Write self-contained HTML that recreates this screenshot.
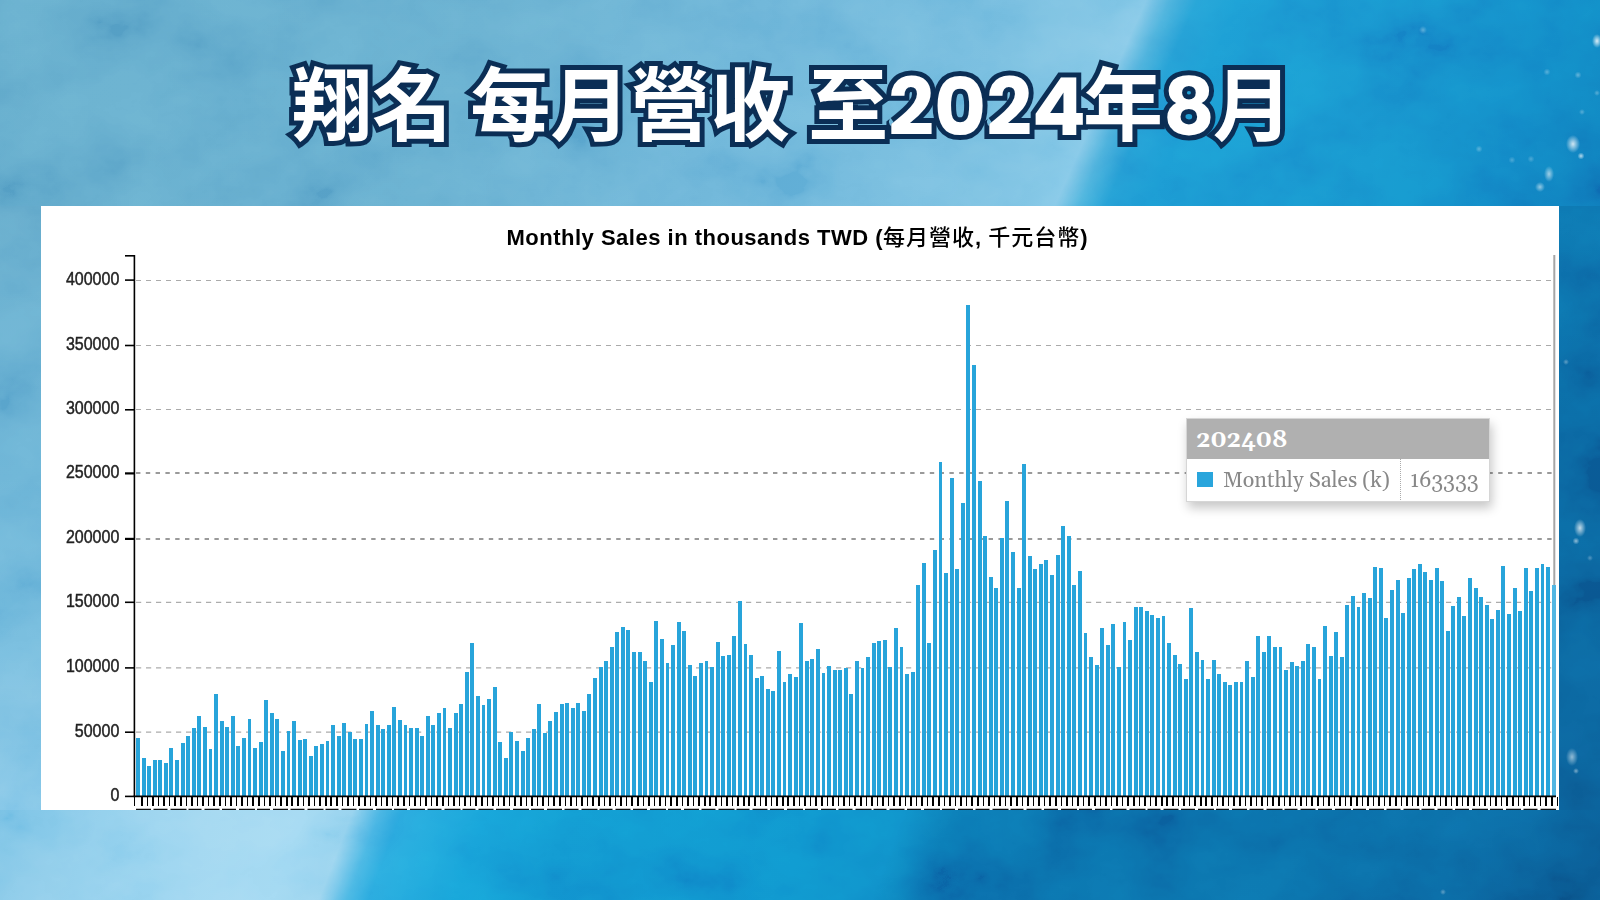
<!DOCTYPE html>
<html><head><meta charset="utf-8">
<style>
*{margin:0;padding:0;box-sizing:border-box}
html,body{width:1600px;height:900px;overflow:hidden}
body{position:relative;
background:#3f9bd0;
}
.bgt{position:absolute;left:0;top:0;width:1600px;height:215px;
 background:linear-gradient(114deg, #62aacb 0%, #65adcf 30%, #6cb4d8 45%, #74bcdf 60%, #7cc3e4 66%, #84c8e8 67.6%, #4cb0dc 69%, #259ed5 70.6%, #1c9ad3 73%, #1792cd 85%, #1287c6 93%, #0f7cbb 100%)}
.bgb{position:absolute;left:0;top:800px;width:1600px;height:100px;
 background:linear-gradient(111deg, #7ec4e6 0%, #8acbea 4.5%, #98d3ef 10%, #a0d8f2 19%, #9ad4ef 21.8%, #4ab6e4 23.5%, #2aa8de 24.8%, #17a0d8 30%, #1296d0 35%, #0f92cd 50%, #0f8cc8 55.5%, #0b76b3 58.5%, #0b70ac 65%, #0b6ea9 80%, #0b68a3 90%, #0a5d96 100%)}
.bgl{position:absolute;left:0;top:206px;width:45px;height:604px;
 background:linear-gradient(180deg, #64aacb 0%, #68b1d5 45%, #72badd 72%, #80c3e4 90%, #89c9e9 100%)}
.bgr{position:absolute;left:1555px;top:206px;width:45px;height:604px;
 background:linear-gradient(180deg, #0d74b0 0%, #0b6ba6 30%, #0b66a0 60%, #0b5e97 100%)}
.tex{position:absolute;left:0;top:0;mix-blend-mode:overlay;opacity:0.13}
.spk{position:absolute;left:0;top:0;width:1600px;height:900px;background:
 radial-gradient(ellipse 5px 7px at 1597px 41px, rgba(255,255,255,0.85), rgba(255,255,255,0)),
 radial-gradient(ellipse 7px 9px at 1573px 144px, rgba(255,255,255,0.8), rgba(255,255,255,0)),
 radial-gradient(circle 3.5px at 1581px 156px, rgba(255,255,255,0.7), rgba(255,255,255,0)),
 radial-gradient(ellipse 5px 8px at 1549px 174px, rgba(255,255,255,0.6), rgba(255,255,255,0)),
 radial-gradient(circle 5px at 1540px 187px, rgba(255,255,255,0.55), rgba(255,255,255,0)),
 radial-gradient(circle 4px at 1423px 30px, rgba(255,255,255,0.3), rgba(255,255,255,0)),
 radial-gradient(circle 3.5px at 1578px 75px, rgba(255,255,255,0.35), rgba(255,255,255,0)),
 radial-gradient(circle 3.5px at 1547px 72px, rgba(255,255,255,0.3), rgba(255,255,255,0)),
 radial-gradient(circle 3.5px at 1479px 149px, rgba(255,255,255,0.3), rgba(255,255,255,0)),
 radial-gradient(circle 3.5px at 1512px 160px, rgba(255,255,255,0.25), rgba(255,255,255,0)),
 radial-gradient(circle 3.5px at 1531px 159px, rgba(255,255,255,0.25), rgba(255,255,255,0)),
 radial-gradient(circle 3px at 1582px 112px, rgba(255,255,255,0.3), rgba(255,255,255,0)),
 radial-gradient(circle 3px at 1597px 93px, rgba(255,255,255,0.3), rgba(255,255,255,0)),
 radial-gradient(ellipse 6px 9px at 1580px 528px, rgba(255,255,255,0.75), rgba(255,255,255,0)),
 radial-gradient(circle 3.5px at 1576px 541px, rgba(255,255,255,0.55), rgba(255,255,255,0)),
 radial-gradient(circle 3px at 1566px 362px, rgba(255,255,255,0.35), rgba(255,255,255,0)),
 radial-gradient(circle 3px at 1590px 558px, rgba(255,255,255,0.3), rgba(255,255,255,0)),
 radial-gradient(ellipse 6px 9px at 1572px 757px, rgba(255,255,255,0.55), rgba(255,255,255,0)),
 radial-gradient(circle 3px at 1576px 771px, rgba(255,255,255,0.45), rgba(255,255,255,0)),
 radial-gradient(circle 3px at 1443px 892px, rgba(255,255,255,0.35), rgba(255,255,255,0))}
.title{position:absolute;left:292px;top:39px;width:1600px;text-align:left;white-space:pre;
 font-family:"Noto Sans CJK TC","Noto Sans CJK SC",sans-serif;font-weight:700;font-size:80px;line-height:120px;letter-spacing:0px}
.title.s{color:#0b2e55;-webkit-text-stroke:10px #0b2e55}
.title.f{color:#fff}
.title .a{letter-spacing:0px}.title .d{font-family:Poppins,"Noto Sans CJK TC",sans-serif;font-weight:700;position:relative;top:1px}.title .e{margin-right:-3px}.title .g{margin-right:-2px}.title .c{letter-spacing:0px}
.panel{position:absolute;left:41px;top:206px;width:1518px;height:604px;background:#fff}
svg.chart{position:absolute;left:0;top:0}
.ctitle{position:absolute;left:506.5px;top:222px;width:700px;text-align:left;white-space:nowrap;font-family:"Liberation Sans",Arial,sans-serif;font-weight:bold;font-size:22px;color:#000;line-height:26px;letter-spacing:0.5px}
.ctitle span{font-family:"Noto Sans CJK TC",sans-serif;font-weight:500;letter-spacing:1px}
.tt{position:absolute;left:1186px;top:418px;width:304px;height:83.5px;background:#fff;border:1px solid #d6d6d6;box-shadow:2px 6px 10px rgba(0,0,0,0.22);font-family:Gelasio,"Liberation Serif",serif}
.tt .h{height:40px;background:#b0b0b0;color:#fff;font-weight:bold;font-size:23px;line-height:43px;padding-left:9px;font-variant-numeric:oldstyle-nums}
.tt .r{position:relative;height:41px}
.tt .sq{position:absolute;left:10px;top:13px;width:16px;height:15px;background:#29a5dc}
.tt .k{position:absolute;left:36px;top:8px;font-size:21.4px;color:#888;line-height:28px}
.tt .d{position:absolute;left:213px;top:0;height:41px;border-left:1px dotted #aaa}
.tt .v{position:absolute;left:223px;top:8px;font-size:21.4px;color:#888;line-height:28px;font-variant-numeric:oldstyle-nums}
</style></head><body>
<div class="bgt"></div><div class="bgb"></div><div class="bgl"></div><div class="bgr"></div>
<svg class="tex" width="1600" height="900" viewBox="0 0 1600 900"><filter id="tn" x="0" y="0" width="100%" height="100%" filterUnits="userSpaceOnUse"><feTurbulence type="fractalNoise" baseFrequency="0.011 0.014" numOctaves="5" seed="11" result="n"/><feColorMatrix in="n" type="matrix" values="1.6 0 0 0 -0.3  1.6 0 0 0 -0.3  1.6 0 0 0 -0.3  0 0 0 0 1"/></filter><rect x="0" y="0" width="1600" height="900" filter="url(#tn)"/></svg>
<div class="spk"></div>
<div class="title s">翔名 每月營收 <span class="a">至</span><span class="d e">2024</span><span class="c">年</span><span class="d g">8</span>月</div>
<div class="title f">翔名 每月營收 <span class="a">至</span><span class="d e">2024</span><span class="c">年</span><span class="d g">8</span>月</div>
<div class="panel"></div>
<svg class="chart" width="1600" height="900" viewBox="0 0 1600 900">
<g>
<line x1="136" y1="732.2" x2="1553" y2="732.2" stroke="#acacac" stroke-width="1.3" stroke-dasharray="5.2 4.8"/><line x1="136" y1="667.9" x2="1553" y2="667.9" stroke="#acacac" stroke-width="1.3" stroke-dasharray="5.2 4.8"/><line x1="136" y1="602.3" x2="1553" y2="602.3" stroke="#acacac" stroke-width="1.3" stroke-dasharray="5.2 4.8"/><line x1="136" y1="539" x2="1553" y2="539" stroke="#9a9a9a" stroke-width="2" stroke-dasharray="4.4 5.4"/><line x1="136" y1="473" x2="1553" y2="473" stroke="#9a9a9a" stroke-width="2" stroke-dasharray="4.4 5.4"/><line x1="136" y1="409.5" x2="1553" y2="409.5" stroke="#aaa" stroke-width="1" stroke-dasharray="5 5"/><line x1="136" y1="345.5" x2="1553" y2="345.5" stroke="#aaa" stroke-width="1" stroke-dasharray="5 5"/><line x1="136" y1="280.5" x2="1553" y2="280.5" stroke="#aaa" stroke-width="1" stroke-dasharray="5 5"/>
</g>
<g shape-rendering="crispEdges">
<rect x="136.05" y="738.4" width="3.9" height="57.6" fill="#28a4da"/>
<rect x="141.62" y="758.1" width="3.9" height="37.9" fill="#28a4da"/>
<rect x="147.20" y="765.7" width="3.9" height="30.3" fill="#28a4da"/>
<rect x="152.77" y="760.4" width="3.9" height="35.6" fill="#28a4da"/>
<rect x="158.34" y="760.4" width="3.9" height="35.6" fill="#28a4da"/>
<rect x="163.92" y="763.3" width="3.9" height="32.7" fill="#28a4da"/>
<rect x="169.49" y="747.6" width="3.9" height="48.4" fill="#28a4da"/>
<rect x="175.06" y="760.4" width="3.9" height="35.6" fill="#28a4da"/>
<rect x="180.64" y="743.4" width="3.9" height="52.6" fill="#28a4da"/>
<rect x="186.21" y="735.5" width="3.9" height="60.5" fill="#28a4da"/>
<rect x="191.78" y="727.9" width="3.9" height="68.1" fill="#28a4da"/>
<rect x="197.36" y="716.1" width="3.9" height="79.9" fill="#28a4da"/>
<rect x="202.93" y="726.6" width="3.9" height="69.4" fill="#28a4da"/>
<rect x="208.50" y="748.9" width="3.9" height="47.1" fill="#28a4da"/>
<rect x="214.08" y="693.7" width="3.9" height="102.3" fill="#28a4da"/>
<rect x="219.65" y="721.2" width="3.9" height="74.8" fill="#28a4da"/>
<rect x="225.22" y="726.6" width="3.9" height="69.4" fill="#28a4da"/>
<rect x="230.79" y="716.1" width="3.9" height="79.9" fill="#28a4da"/>
<rect x="236.37" y="746.2" width="3.9" height="49.8" fill="#28a4da"/>
<rect x="241.94" y="738.4" width="3.9" height="57.6" fill="#28a4da"/>
<rect x="247.51" y="718.5" width="3.9" height="77.5" fill="#28a4da"/>
<rect x="253.09" y="747.6" width="3.9" height="48.4" fill="#28a4da"/>
<rect x="258.66" y="742.2" width="3.9" height="53.8" fill="#28a4da"/>
<rect x="264.23" y="700.2" width="3.9" height="95.8" fill="#28a4da"/>
<rect x="269.81" y="713.4" width="3.9" height="82.6" fill="#28a4da"/>
<rect x="275.38" y="718.5" width="3.9" height="77.5" fill="#28a4da"/>
<rect x="280.95" y="751.4" width="3.9" height="44.6" fill="#28a4da"/>
<rect x="286.53" y="730.6" width="3.9" height="65.4" fill="#28a4da"/>
<rect x="292.10" y="721.3" width="3.9" height="74.7" fill="#28a4da"/>
<rect x="297.67" y="739.8" width="3.9" height="56.2" fill="#28a4da"/>
<rect x="303.25" y="738.5" width="3.9" height="57.5" fill="#28a4da"/>
<rect x="308.82" y="755.5" width="3.9" height="40.5" fill="#28a4da"/>
<rect x="314.39" y="746.1" width="3.9" height="49.9" fill="#28a4da"/>
<rect x="319.97" y="743.6" width="3.9" height="52.4" fill="#28a4da"/>
<rect x="325.54" y="740.9" width="3.9" height="55.1" fill="#28a4da"/>
<rect x="331.11" y="725.3" width="3.9" height="70.7" fill="#28a4da"/>
<rect x="336.69" y="735.8" width="3.9" height="60.2" fill="#28a4da"/>
<rect x="342.26" y="722.6" width="3.9" height="73.4" fill="#28a4da"/>
<rect x="347.83" y="732.0" width="3.9" height="64.0" fill="#28a4da"/>
<rect x="353.41" y="738.5" width="3.9" height="57.5" fill="#28a4da"/>
<rect x="358.98" y="738.5" width="3.9" height="57.5" fill="#28a4da"/>
<rect x="364.55" y="723.9" width="3.9" height="72.1" fill="#28a4da"/>
<rect x="370.13" y="710.7" width="3.9" height="85.3" fill="#28a4da"/>
<rect x="375.70" y="725.3" width="3.9" height="70.7" fill="#28a4da"/>
<rect x="381.27" y="729.1" width="3.9" height="66.9" fill="#28a4da"/>
<rect x="386.85" y="725.3" width="3.9" height="70.7" fill="#28a4da"/>
<rect x="392.42" y="706.9" width="3.9" height="89.1" fill="#28a4da"/>
<rect x="397.99" y="719.9" width="3.9" height="76.1" fill="#28a4da"/>
<rect x="403.56" y="725.3" width="3.9" height="70.7" fill="#28a4da"/>
<rect x="409.14" y="727.8" width="3.9" height="68.2" fill="#28a4da"/>
<rect x="414.71" y="727.8" width="3.9" height="68.2" fill="#28a4da"/>
<rect x="420.28" y="735.8" width="3.9" height="60.2" fill="#28a4da"/>
<rect x="425.86" y="716.1" width="3.9" height="79.9" fill="#28a4da"/>
<rect x="431.43" y="725.3" width="3.9" height="70.7" fill="#28a4da"/>
<rect x="437.00" y="713.4" width="3.9" height="82.6" fill="#28a4da"/>
<rect x="442.58" y="708.3" width="3.9" height="87.7" fill="#28a4da"/>
<rect x="448.15" y="728.0" width="3.9" height="68.0" fill="#28a4da"/>
<rect x="453.72" y="713.4" width="3.9" height="82.6" fill="#28a4da"/>
<rect x="459.30" y="704.2" width="3.9" height="91.8" fill="#28a4da"/>
<rect x="464.87" y="671.6" width="3.9" height="124.4" fill="#28a4da"/>
<rect x="470.44" y="642.5" width="3.9" height="153.5" fill="#28a4da"/>
<rect x="476.02" y="696.2" width="3.9" height="99.8" fill="#28a4da"/>
<rect x="481.59" y="705.4" width="3.9" height="90.6" fill="#28a4da"/>
<rect x="487.16" y="698.9" width="3.9" height="97.1" fill="#28a4da"/>
<rect x="492.74" y="687.2" width="3.9" height="108.8" fill="#28a4da"/>
<rect x="498.31" y="742.3" width="3.9" height="53.7" fill="#28a4da"/>
<rect x="503.88" y="757.9" width="3.9" height="38.1" fill="#28a4da"/>
<rect x="509.46" y="731.8" width="3.9" height="64.2" fill="#28a4da"/>
<rect x="515.03" y="740.9" width="3.9" height="55.1" fill="#28a4da"/>
<rect x="520.60" y="751.4" width="3.9" height="44.6" fill="#28a4da"/>
<rect x="526.18" y="738.3" width="3.9" height="57.7" fill="#28a4da"/>
<rect x="531.75" y="729.1" width="3.9" height="66.9" fill="#28a4da"/>
<rect x="537.32" y="704.2" width="3.9" height="91.8" fill="#28a4da"/>
<rect x="542.90" y="733.1" width="3.9" height="62.9" fill="#28a4da"/>
<rect x="548.47" y="721.3" width="3.9" height="74.7" fill="#28a4da"/>
<rect x="554.04" y="712.1" width="3.9" height="83.9" fill="#28a4da"/>
<rect x="559.62" y="704.2" width="3.9" height="91.8" fill="#28a4da"/>
<rect x="565.19" y="702.9" width="3.9" height="93.1" fill="#28a4da"/>
<rect x="570.76" y="708.3" width="3.9" height="87.7" fill="#28a4da"/>
<rect x="576.34" y="702.9" width="3.9" height="93.1" fill="#28a4da"/>
<rect x="581.91" y="710.8" width="3.9" height="85.2" fill="#28a4da"/>
<rect x="587.48" y="693.9" width="3.9" height="102.1" fill="#28a4da"/>
<rect x="593.05" y="678.0" width="3.9" height="118.0" fill="#28a4da"/>
<rect x="598.63" y="666.6" width="3.9" height="129.4" fill="#28a4da"/>
<rect x="604.20" y="661.2" width="3.9" height="134.8" fill="#28a4da"/>
<rect x="609.77" y="646.7" width="3.9" height="149.3" fill="#28a4da"/>
<rect x="615.35" y="632.0" width="3.9" height="164.0" fill="#28a4da"/>
<rect x="620.92" y="627.0" width="3.9" height="169.0" fill="#28a4da"/>
<rect x="626.49" y="629.5" width="3.9" height="166.5" fill="#28a4da"/>
<rect x="632.07" y="652.0" width="3.9" height="144.0" fill="#28a4da"/>
<rect x="637.64" y="652.0" width="3.9" height="144.0" fill="#28a4da"/>
<rect x="643.21" y="661.2" width="3.9" height="134.8" fill="#28a4da"/>
<rect x="648.79" y="682.2" width="3.9" height="113.8" fill="#28a4da"/>
<rect x="654.36" y="620.5" width="3.9" height="175.5" fill="#28a4da"/>
<rect x="659.93" y="638.9" width="3.9" height="157.1" fill="#28a4da"/>
<rect x="665.51" y="662.6" width="3.9" height="133.4" fill="#28a4da"/>
<rect x="671.08" y="645.4" width="3.9" height="150.6" fill="#28a4da"/>
<rect x="676.65" y="621.7" width="3.9" height="174.3" fill="#28a4da"/>
<rect x="682.23" y="630.8" width="3.9" height="165.2" fill="#28a4da"/>
<rect x="687.80" y="665.2" width="3.9" height="130.8" fill="#28a4da"/>
<rect x="693.37" y="675.5" width="3.9" height="120.5" fill="#28a4da"/>
<rect x="698.95" y="662.6" width="3.9" height="133.4" fill="#28a4da"/>
<rect x="704.52" y="661.2" width="3.9" height="134.8" fill="#28a4da"/>
<rect x="710.09" y="666.6" width="3.9" height="129.4" fill="#28a4da"/>
<rect x="715.67" y="641.5" width="3.9" height="154.5" fill="#28a4da"/>
<rect x="721.24" y="656.1" width="3.9" height="139.9" fill="#28a4da"/>
<rect x="726.81" y="654.7" width="3.9" height="141.3" fill="#28a4da"/>
<rect x="732.39" y="636.2" width="3.9" height="159.8" fill="#28a4da"/>
<rect x="737.96" y="600.6" width="3.9" height="195.4" fill="#28a4da"/>
<rect x="743.53" y="644.0" width="3.9" height="152.0" fill="#28a4da"/>
<rect x="749.11" y="654.5" width="3.9" height="141.5" fill="#28a4da"/>
<rect x="754.68" y="678.2" width="3.9" height="117.8" fill="#28a4da"/>
<rect x="760.25" y="675.5" width="3.9" height="120.5" fill="#28a4da"/>
<rect x="765.82" y="688.5" width="3.9" height="107.5" fill="#28a4da"/>
<rect x="771.40" y="691.2" width="3.9" height="104.8" fill="#28a4da"/>
<rect x="776.97" y="650.7" width="3.9" height="145.3" fill="#28a4da"/>
<rect x="782.54" y="682.2" width="3.9" height="113.8" fill="#28a4da"/>
<rect x="788.12" y="674.2" width="3.9" height="121.8" fill="#28a4da"/>
<rect x="793.69" y="676.9" width="3.9" height="119.1" fill="#28a4da"/>
<rect x="799.26" y="623.0" width="3.9" height="173.0" fill="#28a4da"/>
<rect x="804.84" y="661.2" width="3.9" height="134.8" fill="#28a4da"/>
<rect x="810.41" y="658.5" width="3.9" height="137.5" fill="#28a4da"/>
<rect x="815.98" y="649.2" width="3.9" height="146.8" fill="#28a4da"/>
<rect x="821.56" y="672.9" width="3.9" height="123.1" fill="#28a4da"/>
<rect x="827.13" y="666.4" width="3.9" height="129.6" fill="#28a4da"/>
<rect x="832.70" y="670.2" width="3.9" height="125.8" fill="#28a4da"/>
<rect x="838.28" y="670.2" width="3.9" height="125.8" fill="#28a4da"/>
<rect x="843.85" y="667.7" width="3.9" height="128.3" fill="#28a4da"/>
<rect x="849.42" y="693.9" width="3.9" height="102.1" fill="#28a4da"/>
<rect x="855.00" y="661.2" width="3.9" height="134.8" fill="#28a4da"/>
<rect x="860.57" y="667.7" width="3.9" height="128.3" fill="#28a4da"/>
<rect x="866.14" y="657.2" width="3.9" height="138.8" fill="#28a4da"/>
<rect x="871.72" y="642.7" width="3.9" height="153.3" fill="#28a4da"/>
<rect x="877.29" y="641.3" width="3.9" height="154.7" fill="#28a4da"/>
<rect x="882.86" y="640.2" width="3.9" height="155.8" fill="#28a4da"/>
<rect x="888.44" y="666.5" width="3.9" height="129.5" fill="#28a4da"/>
<rect x="894.01" y="628.4" width="3.9" height="167.6" fill="#28a4da"/>
<rect x="899.58" y="646.7" width="3.9" height="149.3" fill="#28a4da"/>
<rect x="905.16" y="674.2" width="3.9" height="121.8" fill="#28a4da"/>
<rect x="910.73" y="671.6" width="3.9" height="124.4" fill="#28a4da"/>
<rect x="916.30" y="585.0" width="3.9" height="211.0" fill="#28a4da"/>
<rect x="921.88" y="562.8" width="3.9" height="233.2" fill="#28a4da"/>
<rect x="927.45" y="642.8" width="3.9" height="153.2" fill="#28a4da"/>
<rect x="933.02" y="549.8" width="3.9" height="246.2" fill="#28a4da"/>
<rect x="938.59" y="462.2" width="3.9" height="333.8" fill="#28a4da"/>
<rect x="944.17" y="573.0" width="3.9" height="223.0" fill="#28a4da"/>
<rect x="949.74" y="477.7" width="3.9" height="318.3" fill="#28a4da"/>
<rect x="955.31" y="569.2" width="3.9" height="226.8" fill="#28a4da"/>
<rect x="960.89" y="502.6" width="3.9" height="293.4" fill="#28a4da"/>
<rect x="966.46" y="304.6" width="3.9" height="491.4" fill="#28a4da"/>
<rect x="972.03" y="364.7" width="3.9" height="431.3" fill="#28a4da"/>
<rect x="977.61" y="481.4" width="3.9" height="314.6" fill="#28a4da"/>
<rect x="983.18" y="535.5" width="3.9" height="260.5" fill="#28a4da"/>
<rect x="988.75" y="577.1" width="3.9" height="218.9" fill="#28a4da"/>
<rect x="994.33" y="587.7" width="3.9" height="208.3" fill="#28a4da"/>
<rect x="999.90" y="538.0" width="3.9" height="258.0" fill="#28a4da"/>
<rect x="1005.47" y="501.3" width="3.9" height="294.7" fill="#28a4da"/>
<rect x="1011.05" y="552.2" width="3.9" height="243.8" fill="#28a4da"/>
<rect x="1016.62" y="587.7" width="3.9" height="208.3" fill="#28a4da"/>
<rect x="1022.19" y="464.4" width="3.9" height="331.6" fill="#28a4da"/>
<rect x="1027.77" y="556.0" width="3.9" height="240.0" fill="#28a4da"/>
<rect x="1033.34" y="569.3" width="3.9" height="226.7" fill="#28a4da"/>
<rect x="1038.91" y="564.0" width="3.9" height="232.0" fill="#28a4da"/>
<rect x="1044.49" y="560.1" width="3.9" height="235.9" fill="#28a4da"/>
<rect x="1050.06" y="574.7" width="3.9" height="221.3" fill="#28a4da"/>
<rect x="1055.63" y="555.1" width="3.9" height="240.9" fill="#28a4da"/>
<rect x="1061.21" y="526.1" width="3.9" height="269.9" fill="#28a4da"/>
<rect x="1066.78" y="536.4" width="3.9" height="259.6" fill="#28a4da"/>
<rect x="1072.35" y="585.3" width="3.9" height="210.7" fill="#28a4da"/>
<rect x="1077.93" y="570.8" width="3.9" height="225.2" fill="#28a4da"/>
<rect x="1083.50" y="633.4" width="3.9" height="162.6" fill="#28a4da"/>
<rect x="1089.07" y="657.3" width="3.9" height="138.7" fill="#28a4da"/>
<rect x="1094.65" y="665.1" width="3.9" height="130.9" fill="#28a4da"/>
<rect x="1100.22" y="628.2" width="3.9" height="167.8" fill="#28a4da"/>
<rect x="1105.79" y="645.4" width="3.9" height="150.6" fill="#28a4da"/>
<rect x="1111.36" y="624.4" width="3.9" height="171.6" fill="#28a4da"/>
<rect x="1116.94" y="667.4" width="3.9" height="128.6" fill="#28a4da"/>
<rect x="1122.51" y="621.7" width="3.9" height="174.3" fill="#28a4da"/>
<rect x="1128.08" y="640.1" width="3.9" height="155.9" fill="#28a4da"/>
<rect x="1133.66" y="607.2" width="3.9" height="188.8" fill="#28a4da"/>
<rect x="1139.23" y="607.2" width="3.9" height="188.8" fill="#28a4da"/>
<rect x="1144.80" y="611.2" width="3.9" height="184.8" fill="#28a4da"/>
<rect x="1150.38" y="615.2" width="3.9" height="180.8" fill="#28a4da"/>
<rect x="1155.95" y="617.9" width="3.9" height="178.1" fill="#28a4da"/>
<rect x="1161.52" y="616.4" width="3.9" height="179.6" fill="#28a4da"/>
<rect x="1167.10" y="642.7" width="3.9" height="153.3" fill="#28a4da"/>
<rect x="1172.67" y="654.6" width="3.9" height="141.4" fill="#28a4da"/>
<rect x="1178.24" y="663.8" width="3.9" height="132.2" fill="#28a4da"/>
<rect x="1183.82" y="679.2" width="3.9" height="116.8" fill="#28a4da"/>
<rect x="1189.39" y="608.3" width="3.9" height="187.7" fill="#28a4da"/>
<rect x="1194.96" y="651.9" width="3.9" height="144.1" fill="#28a4da"/>
<rect x="1200.54" y="659.7" width="3.9" height="136.3" fill="#28a4da"/>
<rect x="1206.11" y="679.2" width="3.9" height="116.8" fill="#28a4da"/>
<rect x="1211.68" y="659.7" width="3.9" height="136.3" fill="#28a4da"/>
<rect x="1217.26" y="674.1" width="3.9" height="121.9" fill="#28a4da"/>
<rect x="1222.83" y="682.1" width="3.9" height="113.9" fill="#28a4da"/>
<rect x="1228.40" y="684.6" width="3.9" height="111.4" fill="#28a4da"/>
<rect x="1233.98" y="682.0" width="3.9" height="114.0" fill="#28a4da"/>
<rect x="1239.55" y="682.0" width="3.9" height="114.0" fill="#28a4da"/>
<rect x="1245.12" y="660.9" width="3.9" height="135.1" fill="#28a4da"/>
<rect x="1250.70" y="676.8" width="3.9" height="119.2" fill="#28a4da"/>
<rect x="1256.27" y="636.1" width="3.9" height="159.9" fill="#28a4da"/>
<rect x="1261.84" y="651.9" width="3.9" height="144.1" fill="#28a4da"/>
<rect x="1267.42" y="636.1" width="3.9" height="159.9" fill="#28a4da"/>
<rect x="1272.99" y="646.8" width="3.9" height="149.2" fill="#28a4da"/>
<rect x="1278.56" y="646.8" width="3.9" height="149.2" fill="#28a4da"/>
<rect x="1284.14" y="670.1" width="3.9" height="125.9" fill="#28a4da"/>
<rect x="1289.71" y="662.4" width="3.9" height="133.6" fill="#28a4da"/>
<rect x="1295.28" y="666.2" width="3.9" height="129.8" fill="#28a4da"/>
<rect x="1300.85" y="660.9" width="3.9" height="135.1" fill="#28a4da"/>
<rect x="1306.43" y="644.1" width="3.9" height="151.9" fill="#28a4da"/>
<rect x="1312.00" y="646.8" width="3.9" height="149.2" fill="#28a4da"/>
<rect x="1317.57" y="679.4" width="3.9" height="116.6" fill="#28a4da"/>
<rect x="1323.15" y="625.7" width="3.9" height="170.3" fill="#28a4da"/>
<rect x="1328.72" y="655.7" width="3.9" height="140.3" fill="#28a4da"/>
<rect x="1334.29" y="632.0" width="3.9" height="164.0" fill="#28a4da"/>
<rect x="1339.87" y="657.1" width="3.9" height="138.9" fill="#28a4da"/>
<rect x="1345.44" y="604.5" width="3.9" height="191.5" fill="#28a4da"/>
<rect x="1351.01" y="595.5" width="3.9" height="200.5" fill="#28a4da"/>
<rect x="1356.59" y="607.2" width="3.9" height="188.8" fill="#28a4da"/>
<rect x="1362.16" y="592.9" width="3.9" height="203.1" fill="#28a4da"/>
<rect x="1367.73" y="598.2" width="3.9" height="197.8" fill="#28a4da"/>
<rect x="1373.31" y="566.9" width="3.9" height="229.1" fill="#28a4da"/>
<rect x="1378.88" y="568.0" width="3.9" height="228.0" fill="#28a4da"/>
<rect x="1384.45" y="617.9" width="3.9" height="178.1" fill="#28a4da"/>
<rect x="1390.03" y="590.4" width="3.9" height="205.6" fill="#28a4da"/>
<rect x="1395.60" y="579.9" width="3.9" height="216.1" fill="#28a4da"/>
<rect x="1401.17" y="612.6" width="3.9" height="183.4" fill="#28a4da"/>
<rect x="1406.75" y="578.4" width="3.9" height="217.6" fill="#28a4da"/>
<rect x="1412.32" y="569.2" width="3.9" height="226.8" fill="#28a4da"/>
<rect x="1417.89" y="564.2" width="3.9" height="231.8" fill="#28a4da"/>
<rect x="1423.47" y="572.0" width="3.9" height="224.0" fill="#28a4da"/>
<rect x="1429.04" y="579.9" width="3.9" height="216.1" fill="#28a4da"/>
<rect x="1434.61" y="568.1" width="3.9" height="227.9" fill="#28a4da"/>
<rect x="1440.19" y="581.1" width="3.9" height="214.9" fill="#28a4da"/>
<rect x="1445.76" y="630.9" width="3.9" height="165.1" fill="#28a4da"/>
<rect x="1451.33" y="606.0" width="3.9" height="190.0" fill="#28a4da"/>
<rect x="1456.91" y="596.8" width="3.9" height="199.2" fill="#28a4da"/>
<rect x="1462.48" y="616.3" width="3.9" height="179.7" fill="#28a4da"/>
<rect x="1468.05" y="578.4" width="3.9" height="217.6" fill="#28a4da"/>
<rect x="1473.62" y="587.7" width="3.9" height="208.3" fill="#28a4da"/>
<rect x="1479.20" y="596.8" width="3.9" height="199.2" fill="#28a4da"/>
<rect x="1484.77" y="604.8" width="3.9" height="191.2" fill="#28a4da"/>
<rect x="1490.34" y="619.0" width="3.9" height="177.0" fill="#28a4da"/>
<rect x="1495.92" y="610.1" width="3.9" height="185.9" fill="#28a4da"/>
<rect x="1501.49" y="565.6" width="3.9" height="230.4" fill="#28a4da"/>
<rect x="1507.06" y="613.6" width="3.9" height="182.4" fill="#28a4da"/>
<rect x="1512.64" y="587.7" width="3.9" height="208.3" fill="#28a4da"/>
<rect x="1518.21" y="611.3" width="3.9" height="184.7" fill="#28a4da"/>
<rect x="1523.78" y="567.8" width="3.9" height="228.2" fill="#28a4da"/>
<rect x="1529.36" y="590.5" width="3.9" height="205.5" fill="#28a4da"/>
<rect x="1534.93" y="567.8" width="3.9" height="228.2" fill="#28a4da"/>
<rect x="1540.50" y="564.2" width="3.9" height="231.8" fill="#28a4da"/>
<rect x="1546.08" y="566.9" width="3.9" height="229.1" fill="#28a4da"/>
<rect x="1551.65" y="585.2" width="3.9" height="210.8" fill="#52b6e2"/>
</g>
<line x1="1554.3" y1="255" x2="1554.3" y2="585" stroke="#a6a6a6" stroke-width="2"/>
<g font-family="Liberation Sans, Arial, sans-serif" font-size="16" fill="#222" stroke="#222" stroke-width="0.4" text-anchor="end">
<text transform="translate(119.3 800.9) scale(1 1.16)">0</text><line x1="125" y1="796.4" x2="134.5" y2="796.4" stroke="#000" stroke-width="1.6"/><text transform="translate(119.3 736.7) scale(1 1.16)">50000</text><line x1="125" y1="732.2" x2="134.5" y2="732.2" stroke="#000" stroke-width="1.6"/><text transform="translate(119.3 672.4) scale(1 1.16)">100000</text><line x1="125" y1="667.9" x2="134.5" y2="667.9" stroke="#000" stroke-width="1.6"/><text transform="translate(119.3 606.8) scale(1 1.16)">150000</text><line x1="125" y1="602.3" x2="134.5" y2="602.3" stroke="#000" stroke-width="1.6"/><text transform="translate(119.3 543.4) scale(1 1.16)">200000</text><line x1="125" y1="538.9" x2="134.5" y2="538.9" stroke="#000" stroke-width="2.2"/><text transform="translate(119.3 477.9) scale(1 1.16)">250000</text><line x1="125" y1="473.4" x2="134.5" y2="473.4" stroke="#000" stroke-width="2.2"/><text transform="translate(119.3 414.3) scale(1 1.16)">300000</text><line x1="125" y1="409.8" x2="134.5" y2="409.8" stroke="#000" stroke-width="1.6"/><text transform="translate(119.3 350.0) scale(1 1.16)">350000</text><line x1="125" y1="345.5" x2="134.5" y2="345.5" stroke="#000" stroke-width="1.6"/><text transform="translate(119.3 284.6) scale(1 1.16)">400000</text><line x1="125" y1="280.1" x2="134.5" y2="280.1" stroke="#000" stroke-width="1.6"/>
</g>
<line x1="134.4" y1="255" x2="134.4" y2="797" stroke="#000" stroke-width="1.6"/>
<line x1="125" y1="255.8" x2="134.4" y2="255.8" stroke="#000" stroke-width="1.6"/>
<line x1="133.6" y1="796.4" x2="1556" y2="796.4" stroke="#000" stroke-width="1.8"/>
<path d="M134.4 797V806.4M141.80 797V806.4M147.37 797V806.4M152.95 797V806.4M158.52 797V806.4M164.09 797V806.4M169.67 797V806.4M175.24 797V806.4M180.81 797V806.4M186.39 797V806.4M191.96 797V806.4M197.53 797V806.4M203.11 797V806.4M208.68 797V806.4M214.25 797V806.4M219.83 797V806.4M225.40 797V806.4M230.97 797V806.4M236.54 797V806.4M242.12 797V806.4M247.69 797V806.4M253.26 797V806.4M258.84 797V806.4M264.41 797V806.4M269.98 797V806.4M275.56 797V806.4M281.13 797V806.4M286.70 797V806.4M292.28 797V806.4M297.85 797V806.4M303.42 797V806.4M309.00 797V806.4M314.57 797V806.4M320.14 797V806.4M325.72 797V806.4M331.29 797V806.4M336.86 797V806.4M342.44 797V806.4M348.01 797V806.4M353.58 797V806.4M359.16 797V806.4M364.73 797V806.4M370.30 797V806.4M375.88 797V806.4M381.45 797V806.4M387.02 797V806.4M392.60 797V806.4M398.17 797V806.4M403.74 797V806.4M409.31 797V806.4M414.89 797V806.4M420.46 797V806.4M426.03 797V806.4M431.61 797V806.4M437.18 797V806.4M442.75 797V806.4M448.33 797V806.4M453.90 797V806.4M459.47 797V806.4M465.05 797V806.4M470.62 797V806.4M476.19 797V806.4M481.77 797V806.4M487.34 797V806.4M492.91 797V806.4M498.49 797V806.4M504.06 797V806.4M509.63 797V806.4M515.21 797V806.4M520.78 797V806.4M526.35 797V806.4M531.93 797V806.4M537.50 797V806.4M543.07 797V806.4M548.65 797V806.4M554.22 797V806.4M559.79 797V806.4M565.37 797V806.4M570.94 797V806.4M576.51 797V806.4M582.09 797V806.4M587.66 797V806.4M593.23 797V806.4M598.80 797V806.4M604.38 797V806.4M609.95 797V806.4M615.52 797V806.4M621.10 797V806.4M626.67 797V806.4M632.24 797V806.4M637.82 797V806.4M643.39 797V806.4M648.96 797V806.4M654.54 797V806.4M660.11 797V806.4M665.68 797V806.4M671.26 797V806.4M676.83 797V806.4M682.40 797V806.4M687.98 797V806.4M693.55 797V806.4M699.12 797V806.4M704.70 797V806.4M710.27 797V806.4M715.84 797V806.4M721.42 797V806.4M726.99 797V806.4M732.56 797V806.4M738.14 797V806.4M743.71 797V806.4M749.28 797V806.4M754.86 797V806.4M760.43 797V806.4M766.00 797V806.4M771.57 797V806.4M777.15 797V806.4M782.72 797V806.4M788.29 797V806.4M793.87 797V806.4M799.44 797V806.4M805.01 797V806.4M810.59 797V806.4M816.16 797V806.4M821.73 797V806.4M827.31 797V806.4M832.88 797V806.4M838.45 797V806.4M844.03 797V806.4M849.60 797V806.4M855.17 797V806.4M860.75 797V806.4M866.32 797V806.4M871.89 797V806.4M877.47 797V806.4M883.04 797V806.4M888.61 797V806.4M894.19 797V806.4M899.76 797V806.4M905.33 797V806.4M910.91 797V806.4M916.48 797V806.4M922.05 797V806.4M927.63 797V806.4M933.20 797V806.4M938.77 797V806.4M944.34 797V806.4M949.92 797V806.4M955.49 797V806.4M961.06 797V806.4M966.64 797V806.4M972.21 797V806.4M977.78 797V806.4M983.36 797V806.4M988.93 797V806.4M994.50 797V806.4M1000.08 797V806.4M1005.65 797V806.4M1011.22 797V806.4M1016.80 797V806.4M1022.37 797V806.4M1027.94 797V806.4M1033.52 797V806.4M1039.09 797V806.4M1044.66 797V806.4M1050.24 797V806.4M1055.81 797V806.4M1061.38 797V806.4M1066.96 797V806.4M1072.53 797V806.4M1078.10 797V806.4M1083.68 797V806.4M1089.25 797V806.4M1094.82 797V806.4M1100.40 797V806.4M1105.97 797V806.4M1111.54 797V806.4M1117.11 797V806.4M1122.69 797V806.4M1128.26 797V806.4M1133.83 797V806.4M1139.41 797V806.4M1144.98 797V806.4M1150.55 797V806.4M1156.13 797V806.4M1161.70 797V806.4M1167.27 797V806.4M1172.85 797V806.4M1178.42 797V806.4M1183.99 797V806.4M1189.57 797V806.4M1195.14 797V806.4M1200.71 797V806.4M1206.29 797V806.4M1211.86 797V806.4M1217.43 797V806.4M1223.01 797V806.4M1228.58 797V806.4M1234.15 797V806.4M1239.73 797V806.4M1245.30 797V806.4M1250.87 797V806.4M1256.45 797V806.4M1262.02 797V806.4M1267.59 797V806.4M1273.17 797V806.4M1278.74 797V806.4M1284.31 797V806.4M1289.89 797V806.4M1295.46 797V806.4M1301.03 797V806.4M1306.60 797V806.4M1312.18 797V806.4M1317.75 797V806.4M1323.32 797V806.4M1328.90 797V806.4M1334.47 797V806.4M1340.04 797V806.4M1345.62 797V806.4M1351.19 797V806.4M1356.76 797V806.4M1362.34 797V806.4M1367.91 797V806.4M1373.48 797V806.4M1379.06 797V806.4M1384.63 797V806.4M1390.20 797V806.4M1395.78 797V806.4M1401.35 797V806.4M1406.92 797V806.4M1412.50 797V806.4M1418.07 797V806.4M1423.64 797V806.4M1429.22 797V806.4M1434.79 797V806.4M1440.36 797V806.4M1445.94 797V806.4M1451.51 797V806.4M1457.08 797V806.4M1462.66 797V806.4M1468.23 797V806.4M1473.80 797V806.4M1479.37 797V806.4M1484.95 797V806.4M1490.52 797V806.4M1496.09 797V806.4M1501.67 797V806.4M1507.24 797V806.4M1512.81 797V806.4M1518.39 797V806.4M1523.96 797V806.4M1529.53 797V806.4M1535.11 797V806.4M1540.68 797V806.4M1546.25 797V806.4M1551.83 797V806.4M1557.40 797V806.4" stroke="#000" stroke-width="1.6" fill="none" shape-rendering="crispEdges"/>
<line x1="136" y1="809.4" x2="1556" y2="809.4" stroke="#111" stroke-width="1.3" stroke-dasharray="15 2.5 14 3 16 2 13 3"/>
</svg>
<div class="ctitle">Monthly Sales in thousands TWD (<span>每月營收</span>, <span>千元台幣</span>)</div>
<div class="tt"><div class="h">202408</div><div class="r"><div class="sq"></div><div class="k">Monthly Sales (k)</div><div class="d"></div><div class="v">163333</div></div></div>
</body></html>
